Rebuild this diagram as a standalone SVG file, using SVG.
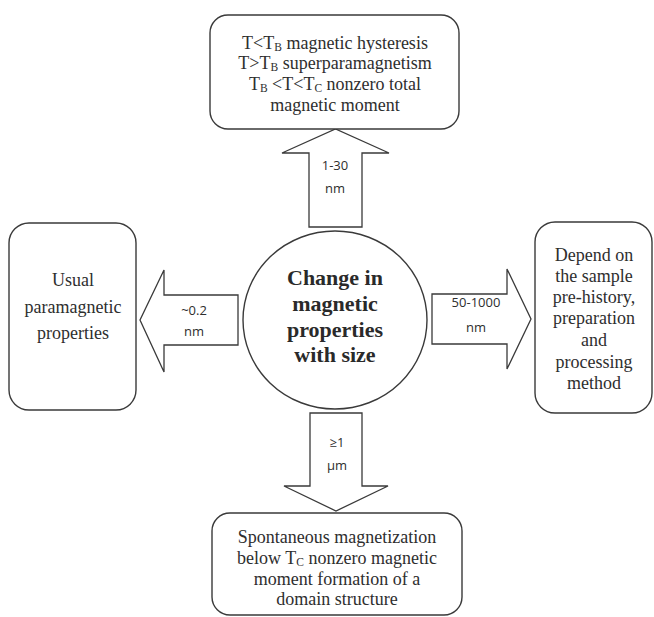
<svg xmlns="http://www.w3.org/2000/svg" width="654" height="617" viewBox="0 0 654 617">
<style>
.box{fill:#fff;stroke:#3a3a3a;stroke-width:1.4}
.arr{fill:#fff;stroke:#3a3a3a;stroke-width:1.3;stroke-linejoin:miter}
.t{font-family:"Liberation Serif","Times New Roman",serif;font-size:18px;fill:#2e2e2e;text-anchor:middle}
.t tspan{font-family:"Liberation Serif","Times New Roman",serif}
.b{font-family:"Liberation Serif","Times New Roman",serif;font-size:22px;font-weight:bold;fill:#2a2a2a;text-anchor:middle}
.s{font-family:"Open Sans","Liberation Sans",Arial,sans-serif;font-size:13px;fill:#2e2e2e;text-anchor:middle}
.t tspan.sub{font-size:11.5px}
</style>
<rect width="654" height="617" fill="#fff"/>
<g id="connectors">
<polygon class="arr" points="309,227 309,153 282,153 335.5,129 389,153 362,153 362,227"/>
<polygon class="arr" points="238,295 164,295 164,270 140,320 164,372 164,345 238,345"/>
<polygon class="arr" points="432,294 507,294 507,269 531,319 507,369 507,344 432,344"/>
<polygon class="arr" points="310,413 362,413 362,486 388,486 336,511 284,486 310,486"/>
<text class="s" x="335" y="170">1-30</text>
<text class="s" x="335" y="193">nm</text>
<text class="s" x="194" y="315">~0.2</text>
<text class="s" x="194" y="336">nm</text>
<text class="s" x="476" y="307">50-1000</text>
<text class="s" x="476" y="332">nm</text>
<text class="s" x="337" y="447">≥1</text>
<text class="s" x="337" y="470">μm</text>
</g>
<g id="center">
<ellipse class="box" cx="335" cy="320" rx="92" ry="89"/>
<text class="b" x="335" y="285">Change in</text>
<text class="b" x="335" y="311">magnetic</text>
<text class="b" x="335" y="337">properties</text>
<text class="b" x="335" y="362">with size</text>
</g>
<g id="top">
<rect class="box" x="210" y="15" width="249" height="114" rx="18"/>
<text class="t" x="335" y="49">T&lt;T<tspan class="sub" dy="2">B</tspan><tspan dy="-2"> magnetic hysteresis</tspan></text>
<text class="t" x="335" y="69">T&gt;T<tspan class="sub" dy="2">B</tspan><tspan dy="-2"> superparamagnetism</tspan></text>
<text class="t" x="335" y="90">T<tspan class="sub" dy="2">B</tspan><tspan dy="-2"> &lt;T&lt;T</tspan><tspan class="sub" dy="2">C</tspan><tspan dy="-2"> nonzero total</tspan></text>
<text class="t" x="335" y="111">magnetic moment</text>
</g>
<g id="left">
<rect class="box" x="9" y="223" width="127" height="187" rx="20"/>
<text class="t" x="73" y="286">Usual</text>
<text class="t" x="73" y="313">paramagnetic</text>
<text class="t" x="73" y="339">properties</text>
</g>
<g id="right">
<rect class="box" x="535" y="222" width="117" height="191" rx="20"/>
<text class="t" x="594" y="261">Depend on</text>
<text class="t" x="594" y="282">the sample</text>
<text class="t" x="594" y="303">pre-history,</text>
<text class="t" x="594" y="324">preparation</text>
<text class="t" x="594" y="346">and</text>
<text class="t" x="594" y="368">processing</text>
<text class="t" x="594" y="389">method</text>
</g>
<g id="bottom">
<rect class="box" x="212" y="513" width="250" height="102" rx="18"/>
<text class="t" x="337" y="543">Spontaneous magnetization</text>
<text class="t" x="337" y="564">below T<tspan class="sub" dy="2">C</tspan><tspan dy="-2"> nonzero magnetic</tspan></text>
<text class="t" x="337" y="585">moment formation of a</text>
<text class="t" x="337" y="605">domain structure</text>
</g>
</svg>
